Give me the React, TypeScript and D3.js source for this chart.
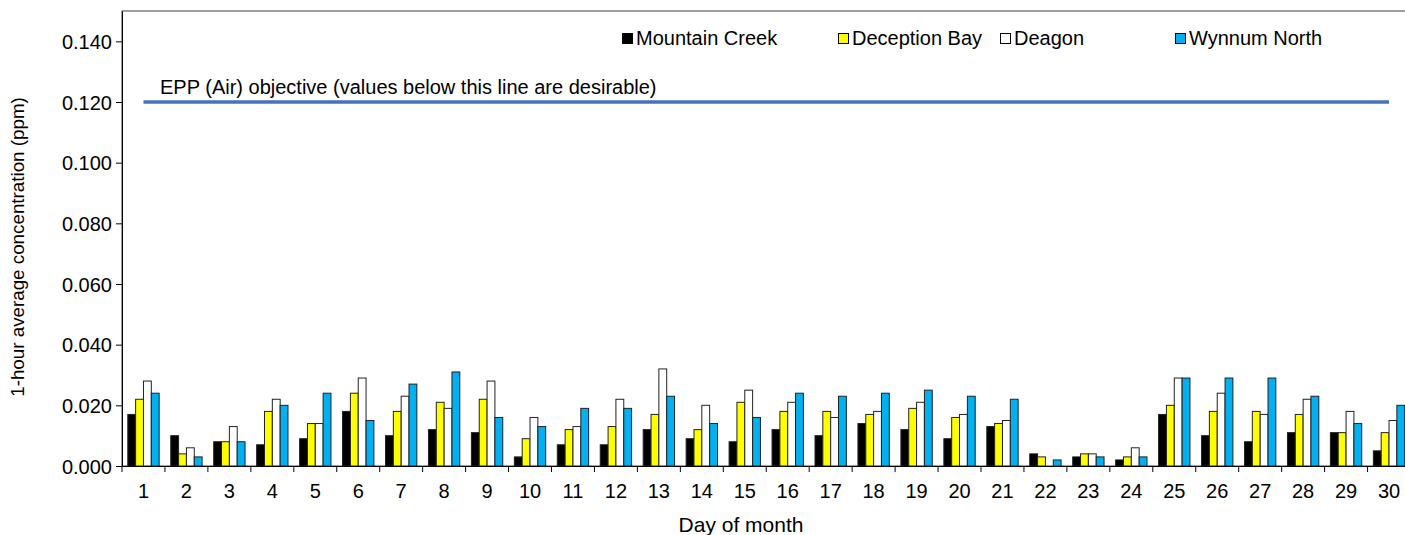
import React, { useRef, useEffect } from 'react';
import * as d3 from 'd3';

const days = d3.range(1, 31).map(String);
const series = ['Mountain Creek', 'Deception Bay', 'Deagon', 'Wynnum North'];
const colors = ['#000000', '#ffff00', '#ffffff', '#00b0f0'];

const mountainCreek = [0.017, 0.010, 0.008, 0.007, 0.009, 0.018, 0.010, 0.012, 0.011, 0.003, 0.007, 0.007, 0.012, 0.009, 0.008, 0.012, 0.010, 0.014, 0.012, 0.009, 0.013, 0.004, 0.003, 0.002, 0.017, 0.010, 0.008, 0.011, 0.011, 0.005];
const deceptionBay = [0.022, 0.004, 0.008, 0.018, 0.014, 0.024, 0.018, 0.021, 0.022, 0.009, 0.012, 0.013, 0.017, 0.012, 0.021, 0.018, 0.018, 0.017, 0.019, 0.016, 0.014, 0.003, 0.004, 0.003, 0.020, 0.018, 0.018, 0.017, 0.011, 0.011];
const deagon = [0.028, 0.006, 0.013, 0.022, 0.014, 0.029, 0.023, 0.019, 0.028, 0.016, 0.013, 0.022, 0.032, 0.020, 0.025, 0.021, 0.016, 0.018, 0.021, 0.017, 0.015, 0.000, 0.004, 0.006, 0.029, 0.024, 0.017, 0.022, 0.018, 0.015];
const wynnumNorth = [0.024, 0.003, 0.008, 0.020, 0.024, 0.015, 0.027, 0.031, 0.016, 0.013, 0.019, 0.019, 0.023, 0.014, 0.016, 0.024, 0.023, 0.024, 0.025, 0.023, 0.022, 0.002, 0.003, 0.003, 0.029, 0.029, 0.029, 0.023, 0.014, 0.020];
const yTicks = [0, 0.02, 0.04, 0.06, 0.08, 0.1, 0.12, 0.14];
const objective = 0.12;
const objectiveLabel = 'EPP (Air) objective (values below this line are desirable)';

const font = '"Liberation Sans", Arial, sans-serif';
const fs = 20;

const App: React.FC = () => {
  const svgRef = useRef<SVGSVGElement | null>(null);

  useEffect(() => {
    document.body.style.margin = '0';
    const svg = d3.select(svgRef.current);
    svg.selectAll('*').remove();

    const left = 122, top = 11, bottom = 466;
    const step = 42.95;
    const right = left + step * days.length;

    const x = d3.scaleBand().domain(days).range([left, right]).padding(0);
    const inner = d3.scaleBand().domain(series).range([step * 0.135, step * 0.865]).padding(0);
    const y = d3.scaleLinear().domain([0, 0.15]).range([bottom, top]);

    const data = [mountainCreek, deceptionBay, deagon, wynnumNorth];

    // frame
    svg.append('rect')
      .attr('x', left).attr('y', top)
      .attr('width', right - left).attr('height', bottom - top)
      .attr('fill', 'none').attr('stroke', '#404040').attr('stroke-width', 1);

    // bars
    const groups = svg.append('g').selectAll('g')
      .data(days)
      .enter().append('g')
      .attr('transform', d => `translate(${x(d)},0)`);

    groups.selectAll('rect')
      .data((_, i) => series.map((s, k) => ({ s, k, v: data[k][i] })))
      .enter().append('rect')
      .attr('x', d => inner(d.s) as number)
      .attr('y', d => y(d.v))
      .attr('width', inner.bandwidth())
      .attr('height', d => bottom - y(d.v))
      .attr('fill', d => colors[d.k])
      .attr('stroke', '#222')
      .attr('stroke-width', 1);

    // y axis
    const yAxis = svg.append('g')
      .attr('transform', `translate(${left},0)`)
      .call(d3.axisLeft(y).tickValues(yTicks).tickFormat(d3.format('.3f')).tickSize(6).tickSizeOuter(0));
    yAxis.select('.domain').attr('stroke', '#000');
    yAxis.selectAll('text').attr('font-size', fs).attr('font-family', font).attr('fill', '#000').attr('x', -10).attr('dy', '0.35em');

    // x axis
    const xAxis = svg.append('g')
      .attr('transform', `translate(0,${bottom})`)
      .call(d3.axisBottom(x).tickSize(0).tickSizeOuter(0));
    xAxis.select('.domain').attr('stroke', '#000');
    xAxis.selectAll('text').attr('font-size', fs).attr('font-family', font).attr('fill', '#000').attr('y', 18).attr('dy', '0.71em');

    // tick marks between categories
    svg.append('g').selectAll('line')
      .data(days)
      .enter().append('line')
      .attr('x1', d => x(d) as number).attr('x2', d => x(d) as number)
      .attr('y1', bottom).attr('y2', bottom + 6)
      .attr('stroke', '#000');

    // objective line, from first to last day centre
    svg.append('line')
      .attr('x1', (x('1') as number) + x.bandwidth() / 2)
      .attr('x2', (x('30') as number) + x.bandwidth() / 2)
      .attr('y1', y(objective)).attr('y2', y(objective))
      .attr('stroke', '#4472c4').attr('stroke-width', 3.5);

    svg.append('text')
      .attr('x', 160).attr('y', y(objective) - 8)
      .attr('font-size', fs).attr('font-family', font)
      .text(objectiveLabel);

    // legend
    const legendX = [622, 838, 1000, 1175];
    const legend = svg.append('g').selectAll('g')
      .data(series)
      .enter().append('g')
      .attr('transform', (_, i) => `translate(${legendX[i]},38)`);
    legend.append('rect')
      .attr('x', 0.5).attr('y', -4.5).attr('width', 10).attr('height', 10)
      .attr('fill', (_, i) => colors[i]).attr('stroke', '#000').attr('stroke-width', 1);
    legend.append('text')
      .attr('x', 14).attr('y', 7)
      .attr('font-size', fs).attr('font-family', font)
      .text(d => d);

    // axis titles
    svg.append('text')
      .attr('transform', 'translate(24,247) rotate(-90)')
      .attr('text-anchor', 'middle')
      .attr('font-size', 18.8).attr('font-family', font)
      .text('1-hour average concentration (ppm)');

    svg.append('text')
      .attr('x', 741).attr('y', 532)
      .attr('text-anchor', 'middle')
      .attr('font-size', 21).attr('font-family', font)
      .text('Day of month');
  }, []);

  return (
    <svg ref={svgRef} width={1405} height={535}
      style={{ position: 'absolute', left: 0, top: 0, background: '#fff', display: 'block' }} />
  );
};

export default App;
